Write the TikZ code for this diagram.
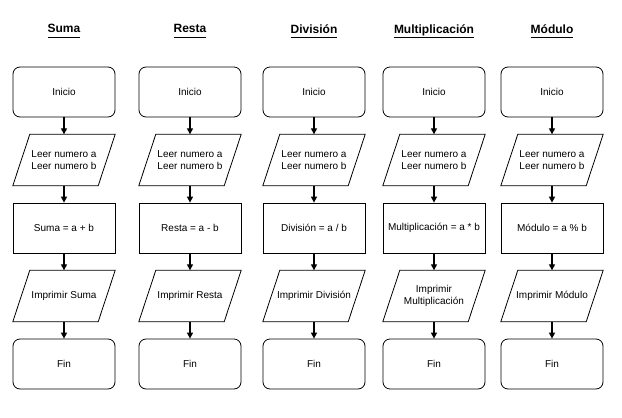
\documentclass[tikz,border=0pt]{standalone}
\usepackage{fontspec}
\setmainfont{Liberation Sans}
\usetikzlibrary{arrows.meta, positioning}

\newcommand{\colhead}[1]{\underline{#1\vphantom{p}}}

\begin{document}
\begin{tikzpicture}[
        x=1pt, y=-1pt,
        title node/.style={font=\fontsize{12}{14}\selectfont\bfseries},
        term node/.style={draw, line width=0.8pt, rounded corners=7pt, minimum width=102pt,
          minimum height=50pt, inner sep=1pt, font=\fontsize{10}{11.5}\selectfont},
        io node/.style={rectangle, minimum width=102pt, minimum height=51pt, inner sep=1pt,
          align=center, font=\fontsize{10}{11.5}\selectfont,
          append after command={\pgfextra{\draw[line width=0.8pt, line join=miter]
            (\tikzlastnode.south west) -- ([xshift=-17pt]\tikzlastnode.south east)
            -- (\tikzlastnode.north east) -- ([xshift=17pt]\tikzlastnode.north west) -- cycle;}}},
        proc node/.style={draw, line width=0.8pt, rectangle, minimum width=102pt,
          minimum height=50pt, inner sep=1pt, font=\fontsize{10}{11.5}\selectfont},
        every edge/.style={draw, -{Triangle[length=6pt,width=6pt]}, line width=1.3pt}
      ]
      \useasboundingbox (0,0) rectangle (622,418);

      % Titles
      \node[title node] (Tsu) at (64,31) {\colhead{Suma}};
      \node[title node] (Tre) at (190,31) {\colhead{Resta}};
      \node[title node] (Tdi) at (314,31) {\colhead{División}};
      \node[title node] (Tmu) at (434,31) {\colhead{Multiplicación}};
      \node[title node] (Tmo) at (552,31) {\colhead{Módulo}};

      % Suma
      \node[term node] (su1) at (64,92) {Inicio};
      \node[io node] (su2) at (64,160) {Leer numero a\\Leer numero b};
      \node[proc node] (su3) at (64,228) {Suma = a + b};
      \node[io node] (su4) at (64,296) {Imprimir Suma};
      \node[term node] (su5) at (64,364) {Fin};

      % Resta
      \node[term node] (re1) at (190,92) {Inicio};
      \node[io node] (re2) at (190,160) {Leer numero a\\Leer numero b};
      \node[proc node] (re3) at (190,228) {Resta = a - b};
      \node[io node] (re4) at (190,296) {Imprimir Resta};
      \node[term node] (re5) at (190,364) {Fin};

      % Division
      \node[term node] (di1) at (314,92) {Inicio};
      \node[io node] (di2) at (314,160) {Leer numero a\\Leer numero b};
      \node[proc node] (di3) at (314,228) {División = a / b};
      \node[io node] (di4) at (314,296) {Imprimir División};
      \node[term node] (di5) at (314,364) {Fin};

      % Multiplicacion
      \node[term node] (mu1) at (434,92) {Inicio};
      \node[io node] (mu2) at (434,160) {Leer numero a\\Leer numero b};
      \node[proc node] (mu3) at (434,228) {Multiplicación = a * b};
      \node[io node] (mu4) at (434,296) {Imprimir\\Multiplicación};
      \node[term node] (mu5) at (434,364) {Fin};

      % Modulo
      \node[term node] (mo1) at (552,92) {Inicio};
      \node[io node] (mo2) at (552,160) {Leer numero a\\Leer numero b};
      \node[proc node] (mo3) at (552,228) {Módulo = a \% b};
      \node[io node] (mo4) at (552,296) {Imprimir Módulo};
      \node[term node] (mo5) at (552,364) {Fin};

      % Edges
      \draw (su1) edge (su2) (su2) edge (su3) (su3) edge (su4) (su4) edge (su5);
      \draw (re1) edge (re2) (re2) edge (re3) (re3) edge (re4) (re4) edge (re5);
      \draw (di1) edge (di2) (di2) edge (di3) (di3) edge (di4) (di4) edge (di5);
      \draw (mu1) edge (mu2) (mu2) edge (mu3) (mu3) edge (mu4) (mu4) edge (mu5);
      \draw (mo1) edge (mo2) (mo2) edge (mo3) (mo3) edge (mo4) (mo4) edge (mo5);
    \end{tikzpicture}
\end{document}
